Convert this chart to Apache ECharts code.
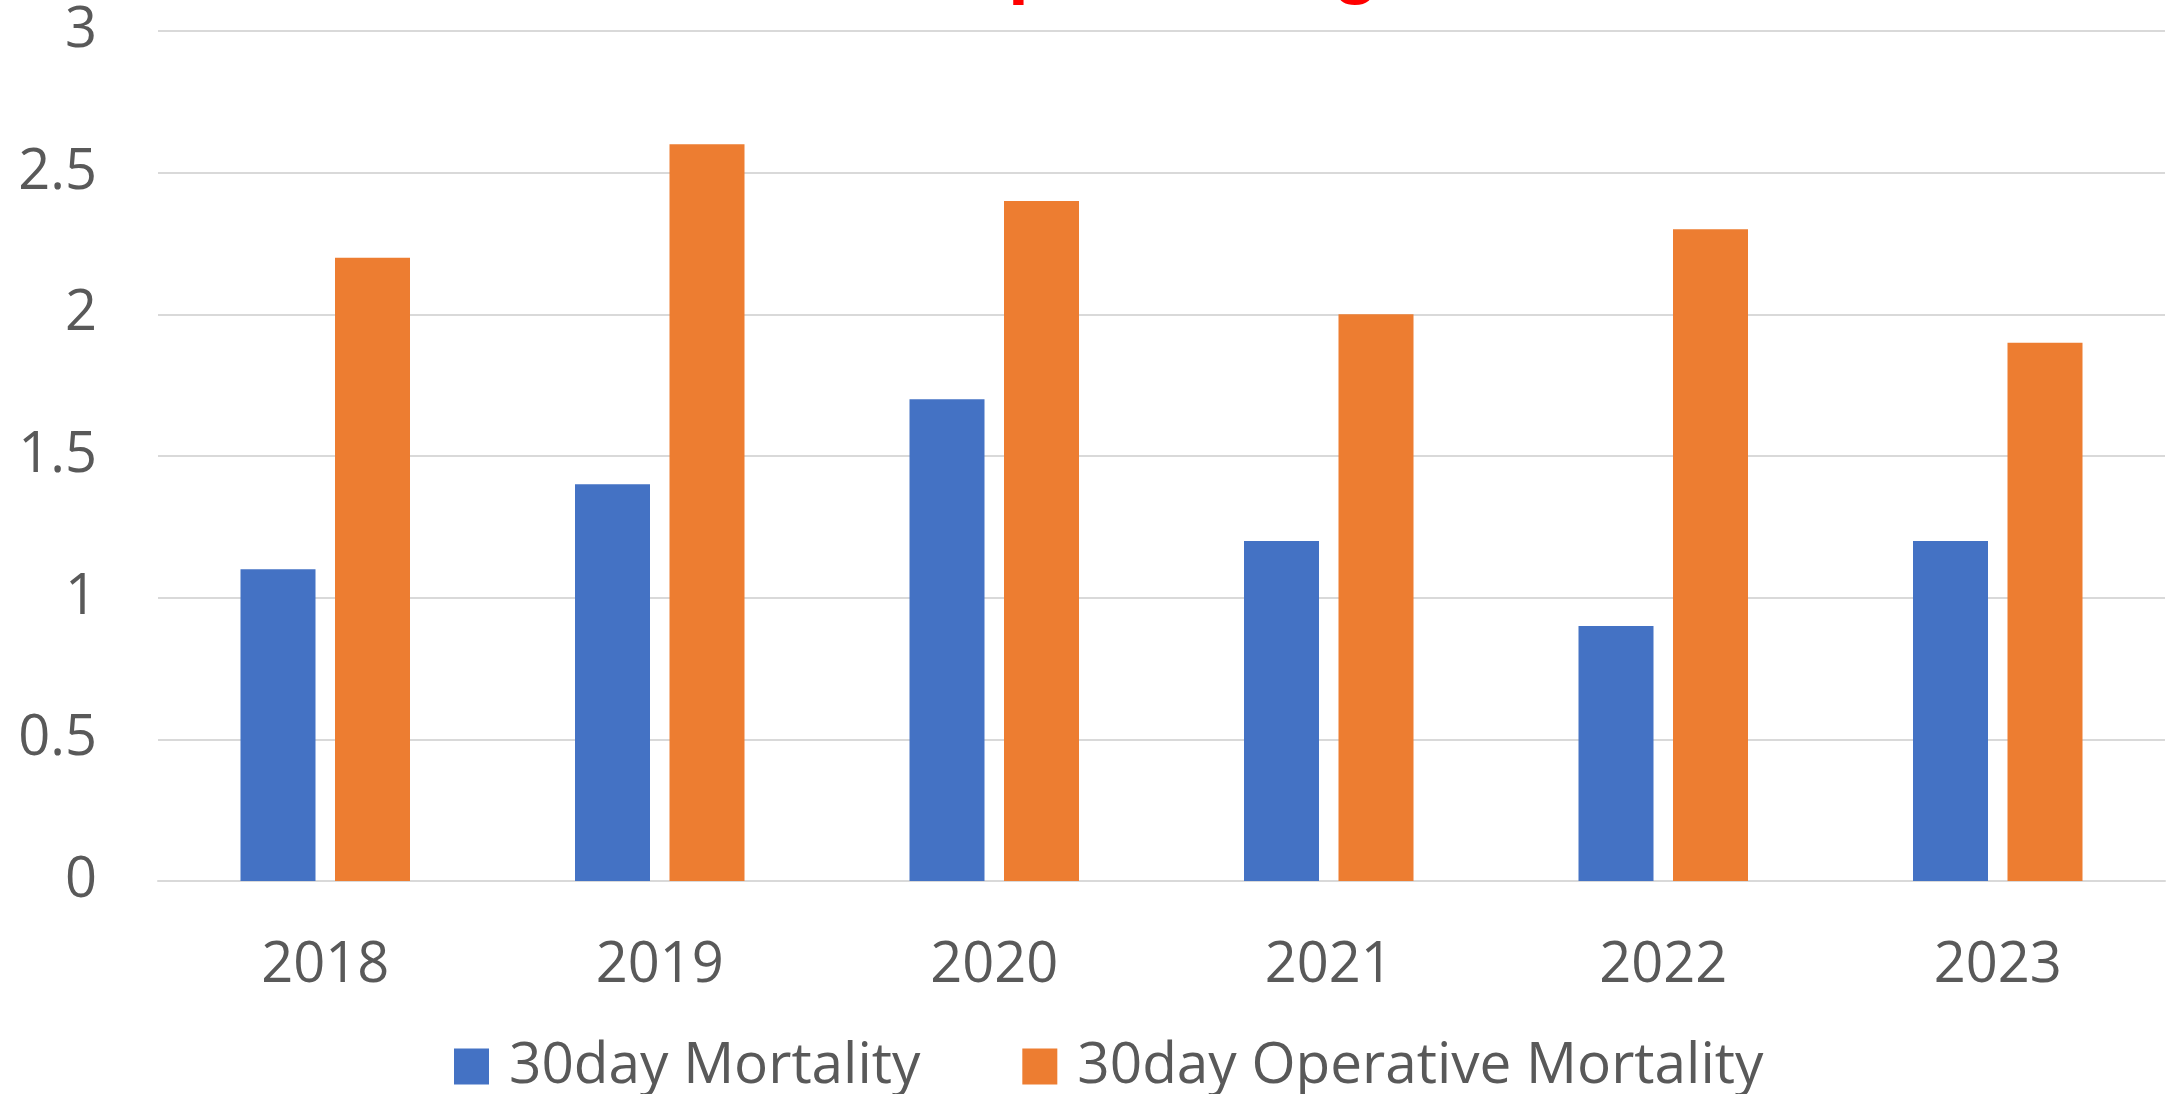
<!DOCTYPE html>
<html>
<head>
<meta charset="utf-8">
<script src="https://cdn.jsdelivr.net/npm/echarts@6/dist/echarts.min.js"></script>
<style>
  html, body { margin: 0; padding: 0; background: #fff; }
  #chart { width: 2179px; height: 1094px; }
</style>
</head>
<body>
<div id="chart"></div>
<script>
// data
var years = ['2018', '2019', '2020', '2021', '2022', '2023'];
var mortality30 = [1.1, 1.4, 1.7, 1.2, 0.9, 1.2];
var operativeMortality30 = [2.2, 2.6, 2.4, 2.0, 2.3, 1.9];
var seriesNames = ['30day Mortality', '30day Operative Mortality'];

var font = 'Open Sans';
var grey = '#595959';

var myChart = echarts.init(document.getElementById('chart'));
var option = {
  backgroundColor: '#fff',
  color: ['#4472C4', '#ED7D31'],
  animation: false,
  // title sits mostly above the canvas, only descenders show
  title: {
    text: 'Transplant Program',
    left: 808,
    top: -68,
    padding: 0,
    textStyle: {
      color: '#FF0000',
      fontFamily: 'Liberation Sans',
      fontWeight: 'bold',
      fontSize: 75
    }
  },
  grid: {
    left: 158,
    right: 14,
    top: 31,
    bottom: 213
  },
  legend: {
    data: seriesNames,
    left: 454,
    top: 1038,
    padding: 0,
    icon: 'rect',
    itemWidth: 35,
    itemHeight: 36,
    itemGap: 102,
    textStyle: {
      color: grey,
      fontFamily: font,
      fontSize: 56.7,
      padding: [0, 0, 0, 15]
    }
  },
  xAxis: {
    type: 'category',
    data: years,
    axisLine: { lineStyle: { color: '#d9d9d9', width: 2 } },
    axisTick: { show: false },
    axisLabel: {
      color: grey,
      fontFamily: font,
      fontSize: 56,
      margin: 57
    }
  },
  yAxis: {
    type: 'value',
    min: 0,
    max: 3,
    interval: 0.5,
    axisLine: { show: false },
    axisTick: { show: false },
    splitLine: { lineStyle: { color: '#d9d9d9', width: 2 } },
    axisLabel: {
      color: grey,
      fontFamily: font,
      fontSize: 56,
      margin: 61
    }
  },
  series: [
    {
      name: seriesNames[0],
      type: 'bar',
      data: mortality30,
      barWidth: 75,
      barGap: '26%'
    },
    {
      name: seriesNames[1],
      type: 'bar',
      data: operativeMortality30,
      barWidth: 75,
      barGap: '26%'
    }
  ]
};
myChart.setOption(option);
window.onresize = myChart.resize;
</script>
</body>
</html>
